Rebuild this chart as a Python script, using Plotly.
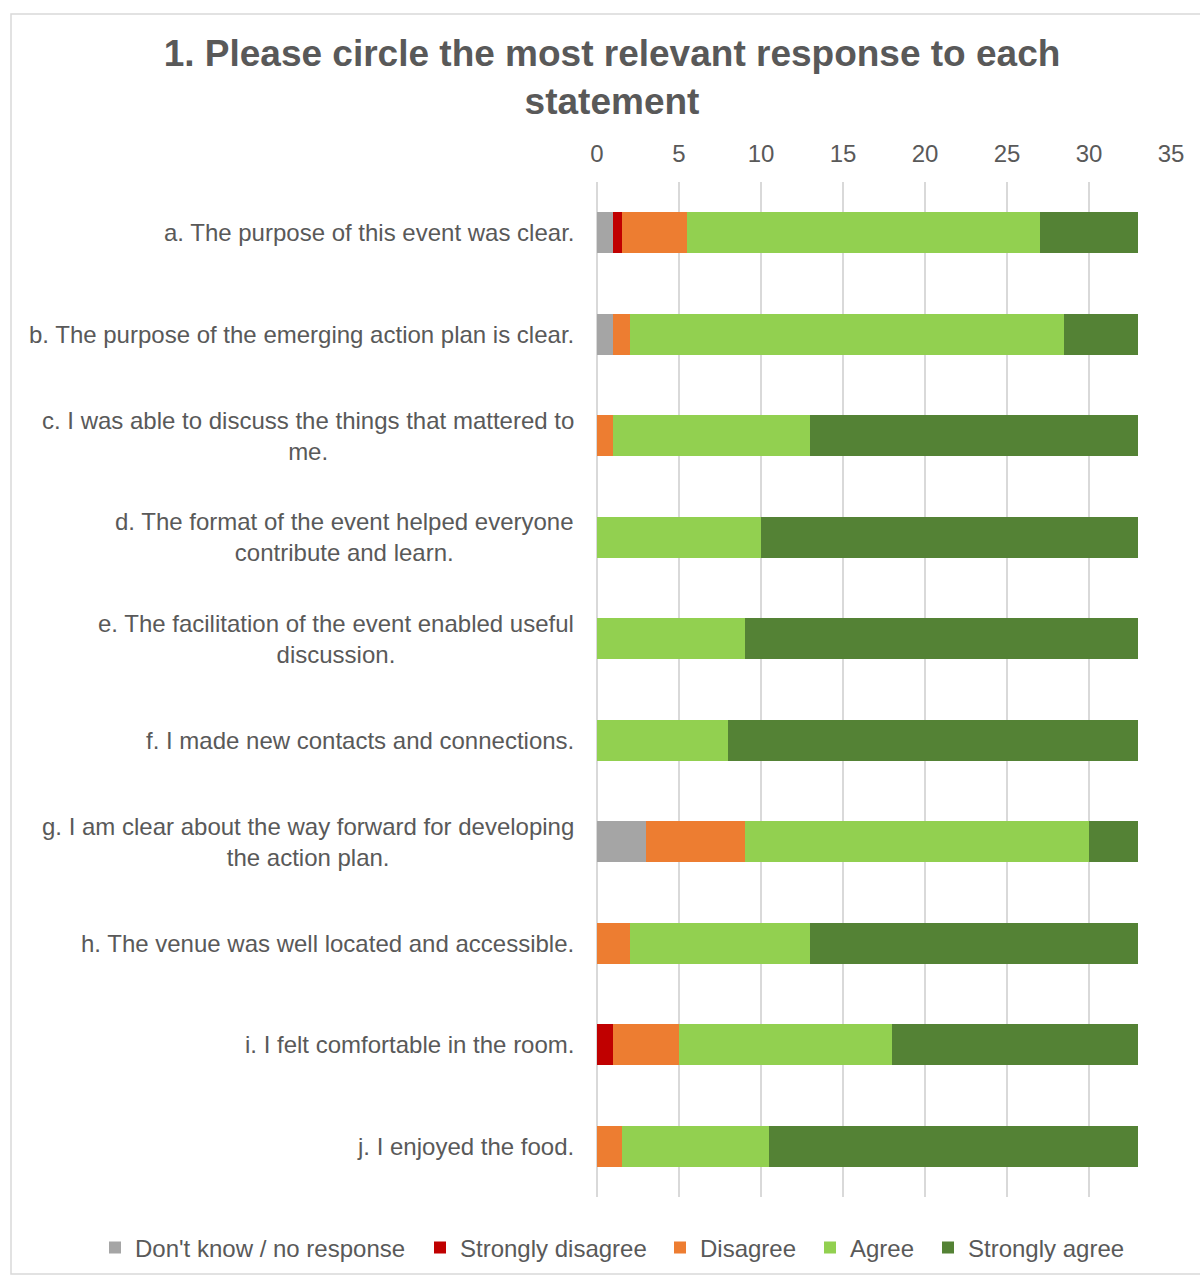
import plotly.graph_objects as go

categories = [
    "a. The purpose of this event was clear.",
    "b. The purpose of the emerging action plan is clear.",
    "c. I was able to discuss the things that mattered to<br>me.",
    "d. The format of the event helped everyone<br>contribute and learn.",
    "e. The facilitation of the event enabled useful<br>discussion.",
    "f. I made new contacts and connections.",
    "g. I am clear about the way forward for developing<br>the action plan.",
    "h. The venue was well located and accessible.",
    "i. I felt comfortable in the room.",
    "j. I enjoyed the food.",
]
series_names = ["Don't know / no response", "Strongly disagree", "Disagree", "Agree", "Strongly agree"]
dont_know = [1, 1, 0, 0, 0, 0, 3, 0, 0, 0]
strongly_disagree = [0.5, 0, 0, 0, 0, 0, 0, 0, 1, 0]
disagree = [4, 1, 1, 0, 0, 0, 6, 2, 4, 1.5]
agree = [21.5, 26.5, 12, 10, 9, 8, 21, 11, 13, 9]
strongly_agree = [6, 4.5, 20, 23, 24, 25, 3, 20, 15, 22.5]
tick_vals = [0, 5, 10, 15, 20, 25, 30, 35]

colors = ["#a5a5a5", "#c00000", "#ed7d31", "#92d050", "#548235"]
series = [dont_know, strongly_disagree, disagree, agree, strongly_agree]

FONT = "Liberation Sans, Arial"
TXT = "#595959"

L, R, T, B = 597, 29, 182, 78
W, H = 1200, 1275
pw = W - L - R
ph = H - T - B

def px_x(p):
    return (p - L) / pw

def px_y(p):
    return (H - B - p) / ph

legend_ids = ["legend", "legend2", "legend3", "legend4", "legend5"]
legend_text_x = [131, 456, 696, 846, 964]

fig = go.Figure()
for name, vals, col, lid in zip(series_names, series, colors, legend_ids):
    fig.add_trace(go.Bar(
        y=categories, x=vals, name=name, orientation="h",
        marker=dict(color=col, line=dict(width=0)),
        hoverinfo="x+name", legend=lid,
    ))

# category labels as annotations (centered multi-line, right-aligned block)
for c in categories:
    fig.add_annotation(
        x=px_x(576), xref="paper", y=c, yref="y", text=c, showarrow=False,
        xanchor="right", yanchor="middle", align="center",
        font=dict(family=FONT, size=24, color=TXT),
    )

fig.add_shape(type="rect", xref="paper", yref="paper",
              x0=px_x(11), x1=px_x(1215), y0=px_y(1274), y1=px_y(14),
              line=dict(color="#d9d9d9", width=1.5), fillcolor="rgba(0,0,0,0)", layer="below")

legend_layout = {}
for lid, tx in zip(legend_ids, legend_text_x):
    legend_layout[lid] = dict(
        orientation="h", xref="container", x=(tx - 36) / W, xanchor="left",
        yref="container", y=1 - 1248 / H, yanchor="middle",
        font=dict(size=24, color=TXT, family=FONT), bgcolor="rgba(0,0,0,0)",
    )

fig.update_layout(
    width=W, height=H,
    margin=dict(l=L, r=R, t=T, b=B, autoexpand=False),
    barmode="stack", bargap=0.6,
    paper_bgcolor="white", plot_bgcolor="white",
    font=dict(family=FONT, color=TXT, size=24),
    title=dict(
        text="<b>1. Please circle the most relevant response to each<br>statement</b>",
        xref="container", x=612 / W, xanchor="center",
        yref="container", y=1 - 66 / H, yanchor="middle",
        font=dict(size=37, color=TXT),
    ),
    xaxis=dict(
        side="top", range=[0, 35], tickvals=tick_vals, ticks="",
        showgrid=True, gridcolor="#d9d9d9", gridwidth=1.5,
        zeroline=True, zerolinecolor="#d9d9d9", zerolinewidth=1.5,
        showline=False, tickfont=dict(size=24, color=TXT),
        ticklabelstandoff=14, fixedrange=True,
    ),
    yaxis=dict(
        autorange="reversed", showticklabels=False, ticks="",
        showgrid=False, showline=False, fixedrange=True,
    ),
    showlegend=True,
    **legend_layout,
)

fig.write_html(
    "out.html",
    config={"displayModeBar": False},
    post_script="document.body.style.margin='0';document.body.style.overflow='hidden';",
)
